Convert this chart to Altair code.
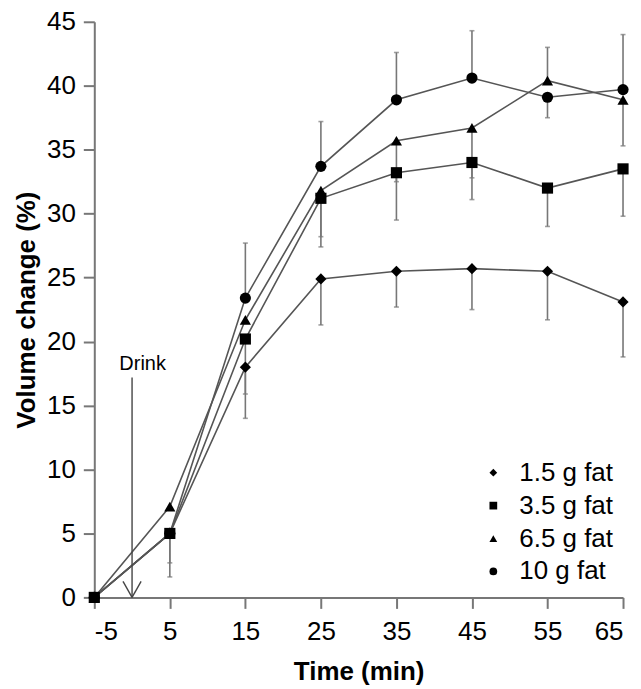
import altair as alt
import pandas as pd

# ---------------- data ----------------
times = [-5, 5, 15, 25, 35, 45, 55, 65]
series_names = ["1.5 g fat", "3.5 g fat", "6.5 g fat", "10 g fat"]
shapes = ["diamond", "square", "triangle-up", "circle"]

fat_1_5 = [0, 5.0, 18.0, 24.9, 25.5, 25.7, 25.5, 23.1]
fat_3_5 = [0, 5.0, 20.2, 31.2, 33.2, 34.0, 32.0, 33.5]
fat_6_5 = [0, 7.1, 21.7, 31.8, 35.7, 36.7, 40.4, 38.9]
fat_10 = [0, 5.0, 23.4, 33.7, 38.9, 40.6, 39.1, 39.7]

# visible error-bar end points (None = not drawn)
err_1_5 = [None, 1.6, 14.0, 21.3, 22.7, 22.5, 21.7, 18.8]
err_3_5 = [None, 2.7, 15.9, 27.4, 29.5, 31.1, 29.0, 29.8]
err_6_5 = [None, None, None, 28.2, 32.5, 32.8, 43.0, 35.3]
err_10 = [None, None, 27.7, 37.2, 42.6, 44.3, 37.5, 44.0]

y_ticks = [0, 5, 10, 15, 20, 25, 30, 35, 40, 45]

# "Drink" annotation arrow (data coordinates)
drink_x = 0
drink_top = 17.2
drink_label_x = 1.4
drink_label_y = 17.8
head_dx = 1.2
head_dy = 1.25

# ---------------- tables ----------------
values = [fat_1_5, fat_3_5, fat_6_5, fat_10]
errs = [err_1_5, err_3_5, err_6_5, err_10]
rows, erows = [], []
for name, vals, ers in zip(series_names, values, errs):
    for t, v, e in zip(times, vals, ers):
        rows.append({"series": name, "time": t, "value": v})
        if e is not None:
            erows.append({"series": name, "time": t, "value": v, "end": e})
df = pd.DataFrame(rows)
edf = pd.DataFrame(erows)

arrow_df = pd.DataFrame({
    "x": [drink_x, drink_x - head_dx, drink_x + head_dx],
    "y": [drink_top, head_dy, head_dy],
    "x2": [drink_x, drink_x, drink_x],
    "y2": [0, 0, 0],
})
label_df = pd.DataFrame({"x": [drink_label_x], "y": [drink_label_y], "text": ["Drink"]})

FONT = "Liberation Sans"

xscale = alt.Scale(domain=[-5, 65], nice=False, zero=False)
yscale = alt.Scale(domain=[0, 45], nice=False)

x_enc = alt.X("time:Q", scale=xscale,
              axis=alt.Axis(title="Time (min)", values=times,
                            labelExpr="'' + datum.value"))
y_enc = alt.Y("value:Q", scale=yscale,
              axis=alt.Axis(title="Volume change (%)", values=y_ticks,
                            labelExpr="'' + datum.value"))

bars = alt.Chart(edf).mark_rule(color="#777777", strokeWidth=1.6).encode(
    x=alt.X("time:Q", scale=xscale), y=alt.Y("value:Q", scale=yscale), y2="end:Q"
)
caps = alt.Chart(edf).mark_tick(color="#777777", orient="horizontal", size=5, thickness=1.6).encode(
    x=alt.X("time:Q", scale=xscale), y=alt.Y("end:Q", scale=yscale)
)
lines = alt.Chart(df).mark_line(color="#555555", strokeWidth=1.6).encode(
    x=x_enc, y=y_enc, detail="series:N"
)
points = alt.Chart(df).mark_point(filled=True, color="black", opacity=1, size=125).encode(
    x=alt.X("time:Q", scale=xscale),
    y=alt.Y("value:Q", scale=yscale),
    shape=alt.Shape("series:N", scale=alt.Scale(domain=series_names, range=shapes),
                    sort=series_names,
                    legend=alt.Legend(title=None, orient="none", legendX=387, legendY=439,
                                      labelFontSize=26, labelFont=FONT, labelColor="black",
                                      symbolSize=60, symbolFillColor="black",
                                      symbolStrokeColor="black", symbolStrokeWidth=0,
                                      rowPadding=7, labelOffset=13, padding=0)),
)
arrow = alt.Chart(arrow_df).mark_rule(color="#444444", strokeWidth=1.4).encode(
    x=alt.X("x:Q", scale=xscale), y=alt.Y("y:Q", scale=yscale),
    x2="x2:Q", y2="y2:Q"
)
label = alt.Chart(label_df).mark_text(font=FONT, fontSize=20, color="black",
                                      align="center", baseline="alphabetic").encode(
    x=alt.X("x:Q", scale=xscale), y=alt.Y("y:Q", scale=yscale), text="text:N"
)

chart = alt.layer(bars, caps, lines, points, arrow, label).properties(
    width=530, height=577,
    autosize=alt.AutoSizeParams(type="none"),
    padding={"left": 86.5, "top": 13, "right": 10, "bottom": 90},
).configure_view(stroke=None).configure_axis(
    grid=False,
    domainColor="#777777", domainWidth=2,
    tickColor="#777777", tickWidth=2, tickSize=11,
    labelFont=FONT, labelFontSize=26, labelColor="black",
    titleFont=FONT, titleFontSize=26, titleFontWeight="bold", titleColor="black",
).configure_axisX(labelPadding=10, titlePadding=14).configure_axisY(
    labelPadding=8, titlePadding=7
)

chart.save("out.html", embed_options={"renderer": "svg", "actions": False})
